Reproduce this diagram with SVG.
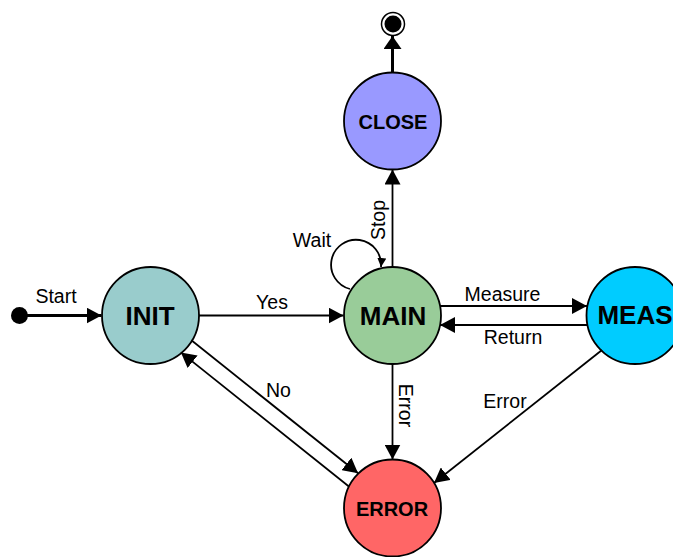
<svg xmlns="http://www.w3.org/2000/svg" width="673" height="557" viewBox="0 0 673 557">
<style>
.node{stroke:#000;stroke-width:1.8}
.big{font-family:"Liberation Sans",Arial,sans-serif;font-weight:bold;font-size:26px;text-anchor:middle;fill:#000}
.mid{font-family:"Liberation Sans",Arial,sans-serif;font-weight:bold;font-size:20px;text-anchor:middle;fill:#000}
.lbl{font-family:"Liberation Sans",Arial,sans-serif;font-size:19.5px;text-anchor:middle;fill:#000}
.edge{stroke:#000;stroke-width:1.8;fill:none}
.thick{stroke:#000;stroke-width:3;fill:none}
</style>
<defs>
<marker id="arr" markerUnits="userSpaceOnUse" markerWidth="16" markerHeight="16" refX="15" refY="8" orient="auto">
<path d="M0,0 L15,8 L0,16 z" fill="#000"/>
</marker>
<marker id="arrT" markerUnits="userSpaceOnUse" markerWidth="14" markerHeight="18" refX="13" refY="9" orient="auto">
<path d="M0,0 L13,9 L0,18 z" fill="#000"/>
</marker>
<marker id="arrS" markerUnits="userSpaceOnUse" markerWidth="10" markerHeight="10" refX="9" refY="4.5" orient="auto">
<path d="M0,0 L9,4.5 L0,9 z" fill="#000"/>
</marker>
</defs>
<rect width="673" height="557" fill="#fff"/>

<g id="start">
<circle cx="19.5" cy="315.5" r="8.5" fill="#000"/>
</g>
<g id="final">
<circle cx="393" cy="24" r="11.5" fill="#fff" stroke="#000" stroke-width="1.5"/>
<circle cx="393" cy="24" r="8.5" fill="#000"/>
</g>
<g id="init">
<circle class="node" cx="150.5" cy="315.5" r="48.5" fill="#99CCCC"/>
<text class="big" x="150" y="325">INIT</text>
</g>
<g id="main">
<circle class="node" cx="392.5" cy="315.5" r="48.5" fill="#99CC99"/>
<text class="big" x="393" y="324.5">MAIN</text>
</g>
<g id="meas">
<circle class="node" cx="635" cy="315.5" r="48.5" fill="#00CCFF"/>
<text class="big" x="635" y="324">MEAS</text>
</g>
<g id="close">
<circle class="node" cx="392.5" cy="121" r="48.5" fill="#9999FF"/>
<text class="mid" x="393" y="128.5">CLOSE</text>
</g>
<g id="error">
<circle class="node" cx="392.5" cy="508" r="48.5" fill="#FF6666"/>
<text class="mid" x="392" y="515.5">ERROR</text>
</g>

<g id="connectors">
<line class="thick" x1="27" y1="315.5" x2="101.5" y2="315.5" marker-end="url(#arr)"/>
<text class="lbl" x="56" y="303">Start</text>

<line class="thick" x1="392.5" y1="72.5" x2="392.5" y2="36" marker-end="url(#arrT)"/>

<line class="edge" x1="199" y1="315.5" x2="343.5" y2="315.5" marker-end="url(#arr)"/>
<text class="lbl" x="272" y="309">Yes</text>

<line class="edge" x1="392.5" y1="267" x2="392.5" y2="169.5" marker-end="url(#arr)"/>
<text class="lbl" transform="translate(385,220) rotate(-90)">Stop</text>

<path class="edge" d="M350,289 A25,25 0 1 1 381,267" marker-end="url(#arrS)"/>
<text class="lbl" x="312" y="246.5">Wait</text>

<line class="edge" x1="440" y1="306" x2="587" y2="306" marker-end="url(#arr)"/>
<text class="lbl" x="502.5" y="301">Measure</text>

<line class="edge" x1="587" y1="325" x2="440" y2="325" marker-end="url(#arr)"/>
<text class="lbl" x="513" y="343.5">Return</text>

<line class="edge" x1="392.5" y1="364" x2="392.5" y2="459.5" marker-end="url(#arr)"/>
<text class="lbl" transform="translate(398.5,405.5) rotate(90)">Error</text>

<line class="edge" x1="602" y1="350" x2="434" y2="483" marker-end="url(#arr)"/>
<text class="lbl" x="505" y="408">Error</text>

<line class="edge" x1="191.4" y1="340.3" x2="358.1" y2="473.3" marker-end="url(#arr)"/>
<line class="edge" x1="348.6" y1="486.2" x2="180.9" y2="352.4" marker-end="url(#arr)"/>
<text class="lbl" x="278.5" y="397">No</text>
</g>
</svg>
